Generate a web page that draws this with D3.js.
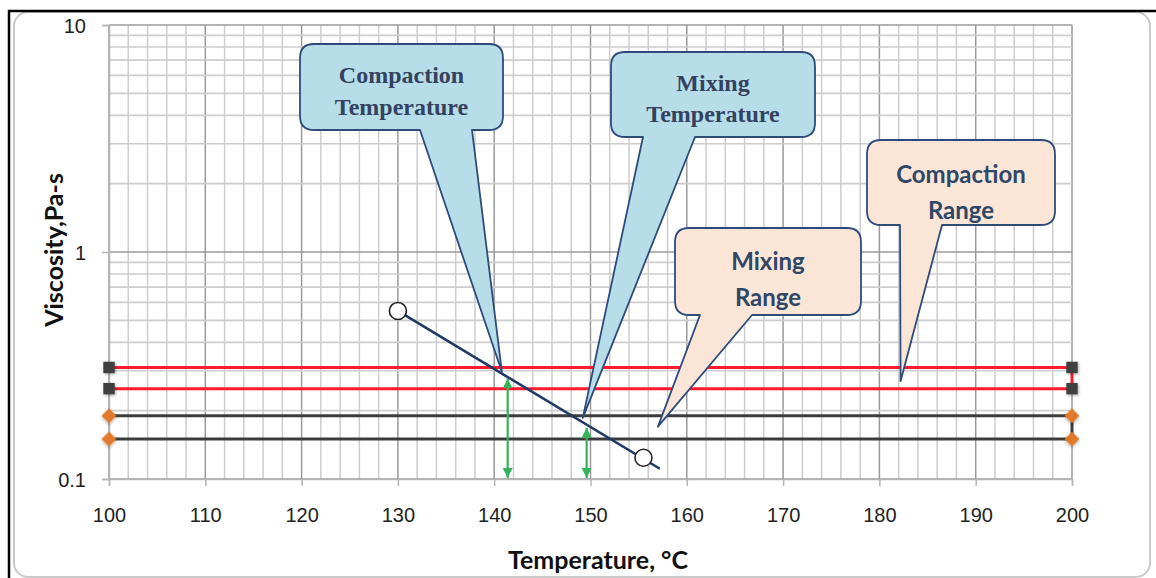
<!DOCTYPE html>
<html>
<head>
<meta charset="utf-8">
<script src="https://cdn.jsdelivr.net/npm/d3@7"></script>
<style>
body{margin:0;background:#fff;}
</style>
</head>
<body>
<div id="chart"></div>
<script>
var xTicks=[100,110,120,130,140,150,160,170,180,190,200];
var yTicks=[0.1,1,10];
var compactionRange=[0.25,0.31];
var mixingRange=[0.15,0.19];
var viscLine=[{t:130,v:0.55},{t:157.2,v:0.111}];
var viscPoints=[{t:130,v:0.55},{t:155.5,v:0.124}];
var targetTemps=[{t:141.4,v:0.28},{t:149.6,v:0.17}];
var calloutText=[["Compaction","Temperature"],["Mixing","Temperature"],["Mixing","Range"],["Compaction","Range"]];
var calloutTips=[{t:140.8,v:0.296},{t:149.2,v:0.186},{t:157.0,v:0.17},{t:182.2,v:0.27}];

var W=1156,H=578;
var pL=109,pR=1072,pT=25,pB=479;

var svg=d3.select("#chart").append("svg")
    .attr("width",W)
    .attr("height",H);

var x=d3.scaleLinear().domain([100,200]).range([pL,pR]);
var y=d3.scaleLog().domain([0.1,10]).range([pB,pT]);

// frame
svg.append("rect").attr("x",14).attr("y",12).attr("width",1136).attr("height",565)
    .attr("rx",14).attr("fill","none").attr("stroke","#c9c9c9").attr("stroke-width",2);
svg.append("line").attr("x1",8).attr("x2",W).attr("y1",11).attr("y2",11).attr("stroke","#000").attr("stroke-width",2.5);
svg.append("line").attr("x1",9).attr("x2",9).attr("y1",10).attr("y2",H).attr("stroke","#000").attr("stroke-width",2.5);

var defs=svg.append("defs");
var f=defs.append("filter").attr("id","sh").attr("x","-50%").attr("y","-50%").attr("width","200%").attr("height","200%");
f.append("feDropShadow").attr("dx",1).attr("dy",1).attr("stdDeviation",1.5).attr("flood-color","#000").attr("flood-opacity",0.35);
["up","down"].forEach(function(k){
    defs.append("marker").attr("id","ar-"+k)
        .attr("viewBox","0 0 10 10").attr("refX",k==="up"?0:10).attr("refY",5)
        .attr("markerWidth",4.5).attr("markerHeight",4.5).attr("orient","auto")
        .append("path").attr("d",k==="up"?"M10,0L0,5L10,10z":"M0,0L10,5L0,10z").attr("fill","#33b35a");
});

// grid
var g=svg.append("g");
var vMinor=d3.range(100,201,2);
g.selectAll(".vg").data(vMinor).enter().append("line")
    .attr("x1",function(d){return x(d);}).attr("x2",function(d){return x(d);})
    .attr("y1",pT).attr("y2",pB)
    .attr("stroke",function(d){return d%10===0?"#9a9a9a":"#cdcdcd";})
    .attr("stroke-width",1.5);
var hMinor=[];
[0.1,1].forEach(function(dec){ for(var k=1;k<=9;k++) hMinor.push(+(k*dec).toFixed(3)); });
hMinor.push(10);
g.selectAll(".hg").data(hMinor).enter().append("line")
    .attr("x1",pL).attr("x2",pR)
    .attr("y1",function(d){return y(d);}).attr("y2",function(d){return y(d);})
    .attr("stroke",function(d){return yTicks.indexOf(d)>=0?"#9a9a9a":"#cdcdcd";})
    .attr("stroke-width",1.6);

// axes
var xAxis=d3.axisBottom(x).tickValues(xTicks).tickSize(7).tickPadding(22).tickFormat(d3.format("d"));
var gx=svg.append("g").attr("transform","translate(0,"+pB+")").call(xAxis);
var yAxis=d3.axisLeft(y).tickValues(yTicks).tickSize(7).tickPadding(16).tickFormat(function(d){return d;});
var gy=svg.append("g").attr("transform","translate("+pL+",0)").call(yAxis);
[gx,gy].forEach(function(a){
    a.select(".domain").attr("stroke","#b5b5b5").attr("stroke-width",1.5);
    a.selectAll(".tick line").attr("stroke","#b5b5b5").attr("stroke-width",1.5);
    a.selectAll(".tick text").attr("fill","#222").style("font-family","Liberation Sans, Arial, sans-serif").style("font-size","20px");
});
gy.selectAll(".tick text").attr("dy","0.36em");

svg.append("text").attr("x",598).attr("y",569).attr("text-anchor","middle")
    .style("font-family","Lato, Liberation Sans, sans-serif").style("font-weight","bold").style("font-size","25px")
    .attr("fill","#111").text("Temperature, °C");
svg.append("text").attr("transform","translate(63,250) rotate(-90)").attr("text-anchor","middle")
    .style("font-family","Lato, Liberation Sans, sans-serif").style("font-weight","bold").style("font-size","25px")
    .attr("fill","#111").text("Viscosity,Pa-s");

// range lines (open on the left)
function rangeLoop(r,color,shape){
    var pts=[{t:100,v:r[1]},{t:200,v:r[1]},{t:200,v:r[0]},{t:100,v:r[0]}];
    svg.append("path").datum(pts)
        .attr("d",d3.line().x(function(d){return x(d.t);}).y(function(d){return y(d.v);}))
        .attr("fill","none").attr("stroke",color).attr("stroke-width",3);
    svg.selectAll(null).data(pts).enter().append("path")
        .attr("transform",function(d){return "translate("+x(d.t)+","+y(d.v)+")"+(shape==="sq"?"":" rotate(45)");})
        .attr("d",d3.symbol().type(d3.symbolSquare).size(shape==="sq"?130:110))
        .attr("fill",shape==="sq"?"#3f3f3f":"#e07a2c")
        .attr("filter","url(#sh)");
}
rangeLoop(mixingRange,"#3c3c3c","di");
rangeLoop(compactionRange,"#ff1a2e","sq");

// target arrows
svg.selectAll(".arr").data(targetTemps).enter().append("line")
    .attr("x1",function(d){return x(d.t);}).attr("x2",function(d){return x(d.t);})
    .attr("y1",function(d){return y(d.v)+1;}).attr("y2",y(0.1)-1)
    .attr("stroke","#33b35a").attr("stroke-width",2.2)
    .attr("marker-start","url(#ar-up)").attr("marker-end","url(#ar-down)");

// viscosity line
svg.append("path").datum(viscLine)
    .attr("d",d3.line().x(function(d){return x(d.t);}).y(function(d){return y(d.v);}))
    .attr("stroke","#1f3864").attr("stroke-width",2.5).attr("fill","none");
svg.selectAll(".vp").data(viscPoints).enter().append("circle")
    .attr("cx",function(d){return x(d.t);}).attr("cy",function(d){return y(d.v);})
    .attr("r",8.5).attr("fill","#fff").attr("stroke","#222").attr("stroke-width",1.6);

// callouts
var boxes=[
    {x:300,y:44,w:203,h:86,tl:420,tr:472,fill:"#b6dde8",font:"Liberation Serif, Times New Roman, serif",size:24,color:"#34425f",b1:39,b2:71},
    {x:611,y:52,w:204,h:85,tl:643,tr:695,fill:"#b6dde8",font:"Liberation Serif, Times New Roman, serif",size:24,color:"#34425f",b1:39,b2:70},
    {x:675,y:228,w:186,h:87,tl:700,tr:752,fill:"#fbe5d6",font:"Lato, Liberation Sans, sans-serif",size:24,color:"#2e4766",b1:42,b2:78},
    {x:867,y:140,w:188,h:85,tl:900,tr:942,fill:"#fbe5d6",font:"Lato, Liberation Sans, sans-serif",size:24,color:"#2e4766",b1:43,b2:79}
];
function calloutPath(b,tx,ty){
    var r=14,x0=b.x,y0=b.y,x1=b.x+b.w,y1=b.y+b.h;
    return "M"+(x0+r)+","+y0+"L"+(x1-r)+","+y0+"Q"+x1+","+y0+" "+x1+","+(y0+r)+
        "L"+x1+","+(y1-r)+"Q"+x1+","+y1+" "+(x1-r)+","+y1+
        "L"+b.tr+","+y1+"L"+tx+","+ty+"L"+b.tl+","+y1+
        "L"+(x0+r)+","+y1+"Q"+x0+","+y1+" "+x0+","+(y1-r)+
        "L"+x0+","+(y0+r)+"Q"+x0+","+y0+" "+(x0+r)+","+y0+"Z";
}
boxes.forEach(function(b,i){
    var tip=calloutTips[i];
    svg.append("path").attr("d",calloutPath(b,x(tip.t),y(tip.v)))
        .attr("fill",b.fill).attr("stroke","#2f4b7c").attr("stroke-width",1.8).attr("stroke-linejoin","round");
    calloutText[i].forEach(function(s,j){
        svg.append("text").attr("x",b.x+b.w/2).attr("y",b.y+(j===0?b.b1:b.b2))
            .attr("text-anchor","middle").style("font-family",b.font).style("font-weight","bold")
            .style("font-size",b.size+"px").attr("fill",b.color).text(s);
    });
});
</script>
</body>
</html>
